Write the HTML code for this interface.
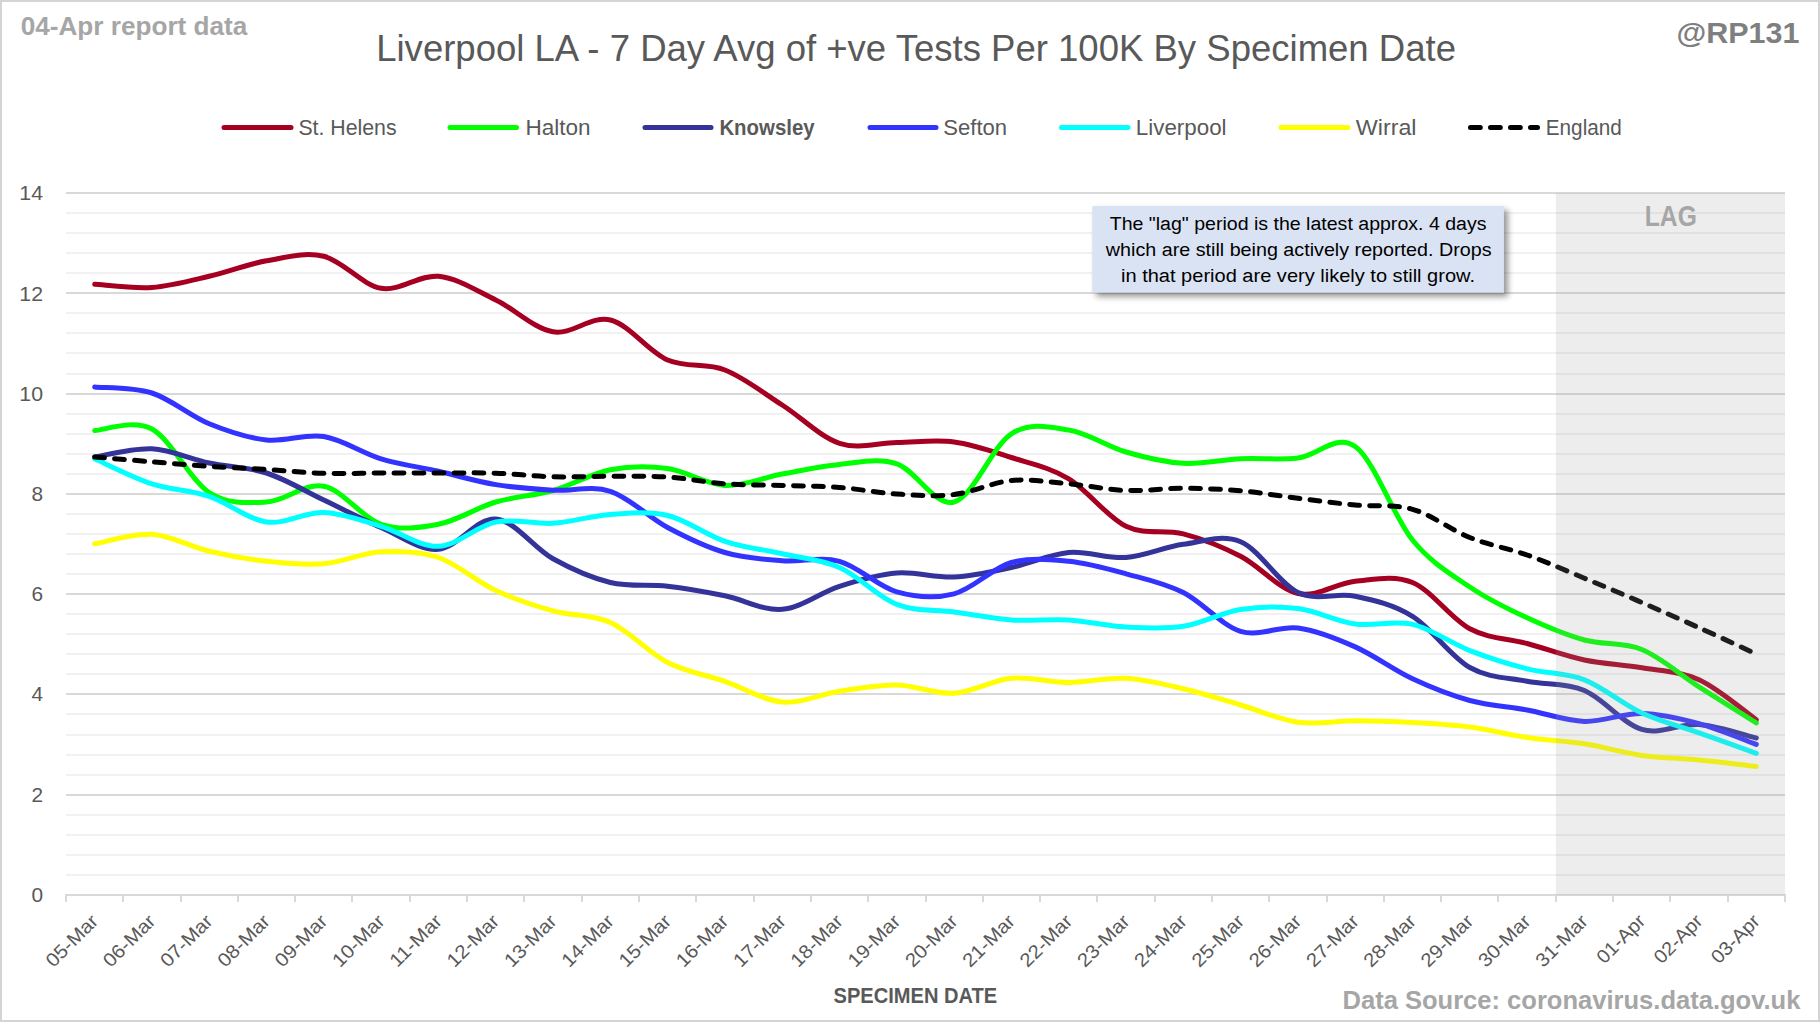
<!DOCTYPE html>
<html lang="en"><head><meta charset="utf-8"><title>Liverpool LA - 7 Day Avg of +ve Tests Per 100K By Specimen Date</title>
<style>html,body{margin:0;padding:0;background:#fff}body{width:1820px;height:1022px;overflow:hidden}svg{display:block}text{font-family:"Liberation Sans",sans-serif}</style></head><body>
<svg width="1820" height="1022" viewBox="0 0 1820 1022">
<defs><filter id="sh" x="-10%" y="-20%" width="125%" height="150%"><feGaussianBlur in="SourceAlpha" stdDeviation="3"/><feOffset dx="4" dy="4"/><feComponentTransfer><feFuncA type="linear" slope="0.43"/></feComponentTransfer><feMerge><feMergeNode/><feMergeNode in="SourceGraphic"/></feMerge></filter></defs>
<rect x="0" y="0" width="1820" height="1022" fill="#fff"/>
<rect x="1" y="1" width="1818" height="1020" fill="none" stroke="#d4d4d4" stroke-width="2"/>
<path d="M66 875H1785M66 855H1785M66 835H1785M66 815H1785M66 775H1785M66 755H1785M66 735H1785M66 714H1785M66 674H1785M66 654H1785M66 634H1785M66 614H1785M66 574H1785M66 554H1785M66 534H1785M66 514H1785M66 474H1785M66 454H1785M66 434H1785M66 414H1785M66 374H1785M66 353H1785M66 333H1785M66 313H1785M66 273H1785M66 253H1785M66 233H1785M66 213H1785" stroke="#f1f1f1" stroke-width="2" fill="none"/>
<path d="M66 795H1785M66 694H1785M66 594H1785M66 494H1785M66 394H1785M66 293H1785M66 193H1785" stroke="#d9d9d9" stroke-width="2" fill="none"/>
<path d="M65 895H1786M66 895V902.0M123 895V902.0M181 895V902.0M238 895V902.0M295 895V902.0M352 895V902.0M410 895V902.0M467 895V902.0M524 895V902.0M582 895V902.0M639 895V902.0M696 895V902.0M754 895V902.0M811 895V902.0M868 895V902.0M926 895V902.0M983 895V902.0M1040 895V902.0M1097 895V902.0M1155 895V902.0M1212 895V902.0M1269 895V902.0M1327 895V902.0M1384 895V902.0M1441 895V902.0M1498 895V902.0M1556 895V902.0M1613 895V902.0M1670 895V902.0M1728 895V902.0M1785 895V902.0" stroke="#d9d9d9" stroke-width="2" fill="none"/>
<text x="43.0" y="901.5" font-size="20.60" fill="#595959" text-anchor="end" textLength="11.6" lengthAdjust="spacingAndGlyphs">0</text>
<text x="43.0" y="801.5" font-size="20.60" fill="#595959" text-anchor="end" textLength="11.6" lengthAdjust="spacingAndGlyphs">2</text>
<text x="43.0" y="701.1" font-size="20.60" fill="#595959" text-anchor="end" textLength="11.6" lengthAdjust="spacingAndGlyphs">4</text>
<text x="43.0" y="600.6" font-size="20.60" fill="#595959" text-anchor="end" textLength="11.6" lengthAdjust="spacingAndGlyphs">6</text>
<text x="43.0" y="500.5" font-size="20.60" fill="#595959" text-anchor="end" textLength="11.6" lengthAdjust="spacingAndGlyphs">8</text>
<text x="43.0" y="400.5" font-size="20.60" fill="#595959" text-anchor="end" textLength="23.7" lengthAdjust="spacingAndGlyphs">10</text>
<text x="43.0" y="300.8" font-size="20.60" fill="#595959" text-anchor="end" textLength="23.7" lengthAdjust="spacingAndGlyphs">12</text>
<text x="43.0" y="199.8" font-size="20.60" fill="#595959" text-anchor="end" textLength="23.7" lengthAdjust="spacingAndGlyphs">14</text>
<text x="99.4" y="922.4" font-size="19.07" fill="#595959" text-anchor="end" textLength="64.9" lengthAdjust="spacingAndGlyphs" transform="rotate(-45 99.4 922.4)">05-Mar</text>
<text x="156.6" y="922.4" font-size="19.07" fill="#595959" text-anchor="end" textLength="64.9" lengthAdjust="spacingAndGlyphs" transform="rotate(-45 156.6 922.4)">06-Mar</text>
<text x="213.9" y="922.4" font-size="19.07" fill="#595959" text-anchor="end" textLength="64.9" lengthAdjust="spacingAndGlyphs" transform="rotate(-45 213.9 922.4)">07-Mar</text>
<text x="271.2" y="922.4" font-size="19.07" fill="#595959" text-anchor="end" textLength="64.9" lengthAdjust="spacingAndGlyphs" transform="rotate(-45 271.2 922.4)">08-Mar</text>
<text x="328.5" y="922.4" font-size="19.07" fill="#595959" text-anchor="end" textLength="64.9" lengthAdjust="spacingAndGlyphs" transform="rotate(-45 328.5 922.4)">09-Mar</text>
<text x="385.8" y="922.4" font-size="19.07" fill="#595959" text-anchor="end" textLength="64.9" lengthAdjust="spacingAndGlyphs" transform="rotate(-45 385.8 922.4)">10-Mar</text>
<text x="443.1" y="922.4" font-size="19.07" fill="#595959" text-anchor="end" textLength="64.9" lengthAdjust="spacingAndGlyphs" transform="rotate(-45 443.1 922.4)">11-Mar</text>
<text x="500.4" y="922.4" font-size="19.07" fill="#595959" text-anchor="end" textLength="64.9" lengthAdjust="spacingAndGlyphs" transform="rotate(-45 500.4 922.4)">12-Mar</text>
<text x="557.8" y="922.4" font-size="19.07" fill="#595959" text-anchor="end" textLength="64.9" lengthAdjust="spacingAndGlyphs" transform="rotate(-45 557.8 922.4)">13-Mar</text>
<text x="615.1" y="922.4" font-size="19.07" fill="#595959" text-anchor="end" textLength="64.9" lengthAdjust="spacingAndGlyphs" transform="rotate(-45 615.1 922.4)">14-Mar</text>
<text x="672.4" y="922.4" font-size="19.07" fill="#595959" text-anchor="end" textLength="64.9" lengthAdjust="spacingAndGlyphs" transform="rotate(-45 672.4 922.4)">15-Mar</text>
<text x="729.6" y="922.4" font-size="19.07" fill="#595959" text-anchor="end" textLength="64.9" lengthAdjust="spacingAndGlyphs" transform="rotate(-45 729.6 922.4)">16-Mar</text>
<text x="787.0" y="922.4" font-size="19.07" fill="#595959" text-anchor="end" textLength="64.9" lengthAdjust="spacingAndGlyphs" transform="rotate(-45 787.0 922.4)">17-Mar</text>
<text x="844.2" y="922.4" font-size="19.07" fill="#595959" text-anchor="end" textLength="64.9" lengthAdjust="spacingAndGlyphs" transform="rotate(-45 844.2 922.4)">18-Mar</text>
<text x="901.5" y="922.4" font-size="19.07" fill="#595959" text-anchor="end" textLength="64.9" lengthAdjust="spacingAndGlyphs" transform="rotate(-45 901.5 922.4)">19-Mar</text>
<text x="958.9" y="922.4" font-size="19.07" fill="#595959" text-anchor="end" textLength="64.9" lengthAdjust="spacingAndGlyphs" transform="rotate(-45 958.9 922.4)">20-Mar</text>
<text x="1016.1" y="922.4" font-size="19.07" fill="#595959" text-anchor="end" textLength="64.9" lengthAdjust="spacingAndGlyphs" transform="rotate(-45 1016.1 922.4)">21-Mar</text>
<text x="1073.5" y="922.4" font-size="19.07" fill="#595959" text-anchor="end" textLength="64.9" lengthAdjust="spacingAndGlyphs" transform="rotate(-45 1073.5 922.4)">22-Mar</text>
<text x="1130.8" y="922.4" font-size="19.07" fill="#595959" text-anchor="end" textLength="64.9" lengthAdjust="spacingAndGlyphs" transform="rotate(-45 1130.8 922.4)">23-Mar</text>
<text x="1188.0" y="922.4" font-size="19.07" fill="#595959" text-anchor="end" textLength="64.9" lengthAdjust="spacingAndGlyphs" transform="rotate(-45 1188.0 922.4)">24-Mar</text>
<text x="1245.3" y="922.4" font-size="19.07" fill="#595959" text-anchor="end" textLength="64.9" lengthAdjust="spacingAndGlyphs" transform="rotate(-45 1245.3 922.4)">25-Mar</text>
<text x="1302.7" y="922.4" font-size="19.07" fill="#595959" text-anchor="end" textLength="64.9" lengthAdjust="spacingAndGlyphs" transform="rotate(-45 1302.7 922.4)">26-Mar</text>
<text x="1360.0" y="922.4" font-size="19.07" fill="#595959" text-anchor="end" textLength="64.9" lengthAdjust="spacingAndGlyphs" transform="rotate(-45 1360.0 922.4)">27-Mar</text>
<text x="1417.2" y="922.4" font-size="19.07" fill="#595959" text-anchor="end" textLength="64.9" lengthAdjust="spacingAndGlyphs" transform="rotate(-45 1417.2 922.4)">28-Mar</text>
<text x="1474.5" y="922.4" font-size="19.07" fill="#595959" text-anchor="end" textLength="64.9" lengthAdjust="spacingAndGlyphs" transform="rotate(-45 1474.5 922.4)">29-Mar</text>
<text x="1531.8" y="922.4" font-size="19.07" fill="#595959" text-anchor="end" textLength="64.9" lengthAdjust="spacingAndGlyphs" transform="rotate(-45 1531.8 922.4)">30-Mar</text>
<text x="1589.1" y="922.4" font-size="19.07" fill="#595959" text-anchor="end" textLength="64.9" lengthAdjust="spacingAndGlyphs" transform="rotate(-45 1589.1 922.4)">31-Mar</text>
<text x="1646.5" y="922.4" font-size="19.07" fill="#595959" text-anchor="end" textLength="59.9" lengthAdjust="spacingAndGlyphs" transform="rotate(-45 1646.5 922.4)">01-Apr</text>
<text x="1703.8" y="922.4" font-size="19.07" fill="#595959" text-anchor="end" textLength="59.9" lengthAdjust="spacingAndGlyphs" transform="rotate(-45 1703.8 922.4)">02-Apr</text>
<text x="1761.0" y="922.4" font-size="19.07" fill="#595959" text-anchor="end" textLength="59.9" lengthAdjust="spacingAndGlyphs" transform="rotate(-45 1761.0 922.4)">03-Apr</text>
<rect x="1092.3" y="206" width="411.5" height="86.5" fill="#dae3f3" filter="url(#sh)"/>
<text x="1298.1" y="229.9" font-size="18.85" fill="#000" text-anchor="middle" textLength="376.8" lengthAdjust="spacingAndGlyphs">The &quot;lag&quot; period is the latest approx. 4 days</text>
<text x="1298.7" y="256.2" font-size="18.85" fill="#000" text-anchor="middle" textLength="385.7" lengthAdjust="spacingAndGlyphs">which are still being actively reported. Drops</text>
<text x="1298.0" y="282.0" font-size="18.85" fill="#000" text-anchor="middle" textLength="354.0" lengthAdjust="spacingAndGlyphs">in that period are very likely to still grow.</text>
<path d="M94.7 284.3C104.2 284.8 132.8 288.8 151.9 287.5C171.0 286.2 190.2 280.8 209.2 276.3C228.3 271.9 247.4 264.1 266.5 260.8C285.6 257.5 304.7 251.7 323.8 256.3C342.9 260.9 362.0 285.0 381.1 288.3C400.2 291.6 419.3 274.4 438.4 276.3C457.6 278.2 476.6 290.8 495.8 300.0C514.9 309.2 533.9 328.5 553.0 331.8C572.1 335.1 591.2 315.3 610.4 320.0C629.5 324.7 648.5 351.7 667.6 360.0C686.8 368.3 705.8 362.5 724.9 370.0C744.0 377.5 763.1 392.8 782.2 405.0C801.4 417.2 820.4 437.1 839.5 443.3C858.6 449.6 877.7 442.7 896.8 442.5C915.9 442.3 935.0 439.5 954.1 442.0C973.2 444.5 992.3 451.4 1011.4 457.5C1030.5 463.6 1049.7 467.3 1068.8 478.8C1087.8 490.3 1107.0 517.1 1126.0 526.3C1145.1 535.5 1164.2 528.8 1183.3 533.8C1202.4 538.8 1221.5 546.3 1240.6 556.3C1259.8 566.2 1278.8 589.3 1298.0 593.5C1317.1 597.7 1336.2 583.1 1355.2 581.3C1374.3 579.5 1393.5 574.6 1412.5 582.5C1431.6 590.4 1450.8 618.6 1469.8 628.8C1488.9 639.0 1508.0 638.3 1527.1 643.5C1546.2 648.7 1565.3 656.0 1584.4 660.0C1603.5 664.0 1622.7 664.5 1641.8 667.8C1660.8 671.1 1680.0 671.1 1699.0 679.8C1718.1 688.4 1746.8 713.1 1756.3 719.7" fill="none" stroke="#a50021" stroke-width="5.0" stroke-linecap="round" stroke-linejoin="round"/>
<path d="M94.7 430.6C104.2 430.3 132.8 418.7 151.9 429.0C171.0 439.3 190.2 480.3 209.2 492.5C228.3 504.7 247.4 503.0 266.5 502.0C285.6 501.0 304.7 482.6 323.8 486.3C342.9 490.0 362.0 518.0 381.1 524.3C400.2 530.6 419.3 528.0 438.4 524.3C457.6 520.6 476.6 507.6 495.8 502.0C514.9 496.4 533.9 495.9 553.0 490.5C572.1 485.1 591.2 473.4 610.4 469.7C629.5 466.0 648.5 465.9 667.6 468.5C686.8 471.1 705.8 484.5 724.9 485.4C744.0 486.3 763.1 477.5 782.2 474.0C801.4 470.5 820.4 466.1 839.5 464.4C858.6 462.7 877.7 457.5 896.8 463.8C915.9 470.1 935.0 507.0 954.1 502.0C973.2 497.0 992.3 445.8 1011.4 433.8C1030.5 421.8 1049.7 427.0 1068.8 430.0C1087.8 433.0 1107.0 446.4 1126.0 452.0C1145.1 457.6 1164.2 462.2 1183.3 463.3C1202.4 464.4 1221.5 459.7 1240.6 458.8C1259.8 457.9 1278.8 460.1 1298.0 458.0C1317.1 455.9 1336.2 432.8 1355.2 446.5C1374.3 460.2 1393.5 516.6 1412.5 540.0C1431.6 563.4 1450.8 574.0 1469.8 587.0C1488.9 600.0 1508.0 609.0 1527.1 617.8C1546.2 626.6 1565.3 634.7 1584.4 640.0C1603.5 645.3 1622.7 641.7 1641.8 649.5C1660.8 657.3 1680.0 674.6 1699.0 686.8C1718.1 699.0 1746.8 716.8 1756.3 722.8" fill="none" stroke="#00ff00" stroke-width="5.0" stroke-linecap="round" stroke-linejoin="round"/>
<path d="M94.7 457.0C104.2 455.6 132.8 447.8 151.9 448.8C171.0 449.8 190.2 459.0 209.2 463.0C228.3 467.0 247.4 466.8 266.5 473.0C285.6 479.2 304.7 490.9 323.8 500.0C342.9 509.1 362.0 519.3 381.1 527.5C400.2 535.7 419.3 550.7 438.4 549.3C457.6 547.9 476.6 517.4 495.8 519.0C514.9 520.6 533.9 548.2 553.0 558.8C572.1 569.4 591.2 577.9 610.4 582.5C629.5 587.1 648.5 584.1 667.6 586.3C686.8 588.5 705.8 592.0 724.9 595.8C744.0 599.6 763.1 610.9 782.2 609.3C801.4 607.7 820.4 592.3 839.5 586.3C858.6 580.2 877.7 574.5 896.8 573.0C915.9 571.5 935.0 577.9 954.1 577.0C973.2 576.1 992.3 571.6 1011.4 567.5C1030.5 563.4 1049.7 554.2 1068.8 552.5C1087.8 550.8 1107.0 558.9 1126.0 557.5C1145.1 556.1 1164.2 546.9 1183.3 544.3C1202.4 541.7 1221.5 533.8 1240.6 541.8C1259.8 549.8 1278.8 583.4 1298.0 592.5C1317.1 601.6 1336.2 592.3 1355.2 596.3C1374.3 600.3 1393.5 604.4 1412.5 616.3C1431.6 628.2 1450.8 656.7 1469.8 667.5C1488.9 678.3 1508.0 677.5 1527.1 681.3C1546.2 685.1 1565.3 682.5 1584.4 690.5C1603.5 698.5 1622.7 723.7 1641.8 729.4C1660.8 735.1 1680.0 723.1 1699.0 724.5C1718.1 725.9 1746.8 735.8 1756.3 738.0" fill="none" stroke="#333399" stroke-width="5.0" stroke-linecap="round" stroke-linejoin="round"/>
<path d="M94.7 387.0C104.2 388.0 132.8 386.9 151.9 393.0C171.0 399.1 190.2 416.0 209.2 423.8C228.3 431.6 247.4 437.9 266.5 440.0C285.6 442.1 304.7 433.4 323.8 436.5C342.9 439.6 362.0 453.0 381.1 458.8C400.2 464.6 419.3 467.0 438.4 471.3C457.6 475.6 476.6 481.5 495.8 484.6C514.9 487.8 533.9 489.1 553.0 490.2C572.1 491.3 591.2 485.1 610.4 491.3C629.5 497.5 648.5 517.3 667.6 527.5C686.8 537.7 705.8 547.0 724.9 552.5C744.0 558.0 763.1 559.3 782.2 560.8C801.4 562.3 820.4 556.1 839.5 561.3C858.6 566.5 877.7 586.5 896.8 591.9C915.9 597.3 935.0 598.7 954.1 593.8C973.2 588.9 992.3 567.9 1011.4 562.5C1030.5 557.1 1049.7 559.4 1068.8 561.3C1087.8 563.2 1107.0 568.6 1126.0 573.8C1145.1 579.0 1164.2 582.9 1183.3 592.5C1202.4 602.1 1221.5 625.4 1240.6 631.3C1259.8 637.2 1278.8 625.4 1298.0 628.0C1317.1 630.6 1336.2 638.4 1355.2 646.9C1374.3 655.4 1393.5 669.9 1412.5 678.8C1431.6 687.7 1450.8 695.3 1469.8 700.5C1488.9 705.7 1508.0 706.5 1527.1 710.0C1546.2 713.5 1565.3 720.8 1584.4 721.4C1603.5 722.0 1622.7 713.0 1641.8 713.4C1660.8 713.8 1680.0 718.4 1699.0 723.6C1718.1 728.8 1746.8 740.9 1756.3 744.4" fill="none" stroke="#3333ff" stroke-width="5.0" stroke-linecap="round" stroke-linejoin="round"/>
<path d="M94.7 458.8C104.2 463.0 132.8 477.6 151.9 483.8C171.0 490.1 190.2 489.9 209.2 496.3C228.3 502.7 247.4 519.3 266.5 522.0C285.6 524.7 304.7 511.8 323.8 512.5C342.9 513.2 362.0 520.7 381.1 526.3C400.2 531.9 419.3 547.0 438.4 546.3C457.6 545.6 476.6 525.8 495.8 522.0C514.9 518.2 533.9 524.5 553.0 523.3C572.1 522.0 591.2 515.8 610.4 514.5C629.5 513.2 648.5 511.0 667.6 515.5C686.8 520.0 705.8 534.9 724.9 541.3C744.0 547.7 763.1 549.4 782.2 553.8C801.4 558.2 820.4 559.1 839.5 567.5C858.6 575.9 877.7 597.0 896.8 604.4C915.9 611.8 935.0 609.4 954.1 612.0C973.2 614.6 992.3 618.7 1011.4 620.0C1030.5 621.3 1049.7 618.8 1068.8 620.0C1087.8 621.2 1107.0 626.0 1126.0 627.0C1145.1 628.0 1164.2 629.2 1183.3 626.3C1202.4 623.4 1221.5 612.5 1240.6 609.5C1259.8 606.5 1278.8 606.1 1298.0 608.5C1317.1 610.9 1336.2 621.4 1355.2 624.0C1374.3 626.6 1393.5 620.0 1412.5 624.4C1431.6 628.8 1450.8 643.2 1469.8 650.6C1488.9 658.0 1508.0 663.9 1527.1 668.8C1546.2 673.7 1565.3 672.4 1584.4 679.8C1603.5 687.2 1622.7 704.2 1641.8 713.0C1660.8 721.8 1680.0 726.1 1699.0 732.8C1718.1 739.5 1746.8 749.9 1756.3 753.3" fill="none" stroke="#00ffff" stroke-width="5.0" stroke-linecap="round" stroke-linejoin="round"/>
<path d="M94.7 543.8C104.2 542.2 132.8 533.0 151.9 534.3C171.0 535.5 190.2 546.8 209.2 551.3C228.3 555.8 247.4 559.2 266.5 561.3C285.6 563.4 304.7 565.4 323.8 563.8C342.9 562.2 362.0 552.8 381.1 551.8C400.2 550.8 419.3 551.0 438.4 557.5C457.6 564.0 476.6 581.7 495.8 590.6C514.9 599.5 533.9 605.5 553.0 610.8C572.1 616.1 591.2 613.9 610.4 622.5C629.5 631.1 648.5 652.7 667.6 662.5C686.8 672.3 705.8 674.7 724.9 681.3C744.0 687.9 763.1 700.3 782.2 702.0C801.4 703.7 820.4 694.1 839.5 691.3C858.6 688.5 877.7 684.7 896.8 685.0C915.9 685.3 935.0 694.4 954.1 693.3C973.2 692.2 992.3 680.1 1011.4 678.3C1030.5 676.5 1049.7 682.5 1068.8 682.5C1087.8 682.5 1107.0 677.2 1126.0 678.3C1145.1 679.3 1164.2 684.3 1183.3 688.8C1202.4 693.2 1221.5 699.4 1240.6 705.0C1259.8 710.6 1278.8 719.7 1298.0 722.3C1317.1 724.9 1336.2 720.8 1355.2 720.8C1374.3 720.8 1393.5 721.5 1412.5 722.5C1431.6 723.5 1450.8 724.5 1469.8 727.0C1488.9 729.5 1508.0 734.7 1527.1 737.5C1546.2 740.3 1565.3 740.8 1584.4 743.8C1603.5 746.8 1622.7 752.7 1641.8 755.4C1660.8 758.1 1680.0 758.2 1699.0 760.1C1718.1 762.0 1746.8 765.4 1756.3 766.5" fill="none" stroke="#ffff00" stroke-width="5.0" stroke-linecap="round" stroke-linejoin="round"/>
<path d="M94.7 457.0C104.2 457.8 132.8 460.2 151.9 461.8C171.0 463.4 190.2 465.0 209.2 466.3C228.3 467.6 247.4 468.3 266.5 469.5C285.6 470.7 304.7 472.7 323.8 473.3C342.9 473.9 362.0 473.1 381.1 473.0C400.2 472.9 419.3 473.0 438.4 473.0C457.6 473.0 476.6 472.6 495.8 473.2C514.9 473.8 533.9 476.3 553.0 476.8C572.1 477.3 591.2 476.3 610.4 476.3C629.5 476.3 648.5 475.8 667.6 477.0C686.8 478.2 705.8 482.4 724.9 483.8C744.0 485.2 763.1 484.9 782.2 485.5C801.4 486.1 820.4 486.1 839.5 487.5C858.6 488.9 877.7 492.8 896.8 494.0C915.9 495.2 935.0 496.8 954.1 494.5C973.2 492.2 992.3 482.3 1011.4 480.5C1030.5 478.7 1049.7 482.1 1068.8 483.8C1087.8 485.5 1107.0 489.8 1126.0 490.5C1145.1 491.2 1164.2 488.2 1183.3 488.3C1202.4 488.4 1221.5 489.1 1240.6 490.8C1259.8 492.5 1278.8 495.9 1298.0 498.3C1317.1 500.7 1336.2 503.2 1355.2 505.0C1374.3 506.8 1393.5 503.9 1412.5 509.3C1431.6 514.7 1450.8 529.9 1469.8 537.5C1488.9 545.1 1508.0 548.2 1527.1 555.0C1546.2 561.8 1565.3 570.3 1584.4 578.2C1603.5 586.1 1622.7 594.2 1641.8 602.5C1660.8 610.8 1680.0 619.1 1699.0 627.7C1718.1 636.3 1746.8 649.6 1756.3 654.0" fill="none" stroke="#000000" stroke-width="5.0" stroke-linecap="round" stroke-linejoin="round" stroke-dasharray="9.8 10.2"/>
<rect x="1555.8" y="193.0" width="229.2" height="702.0" fill="#9e9e9e" fill-opacity="0.19"/>
<text x="1670.8" y="226.0" font-size="28.70" fill="#a6a6a6" text-anchor="middle" font-weight="bold" textLength="52.0" lengthAdjust="spacingAndGlyphs">LAG</text>
<text x="916.1" y="61.4" font-size="36.47" fill="#595959" text-anchor="middle" textLength="1079.8" lengthAdjust="spacingAndGlyphs">Liverpool LA - 7 Day Avg of +ve Tests Per 100K By Specimen Date</text>
<text x="20.7" y="34.7" font-size="25.87" fill="#a6a6a6" font-weight="bold" textLength="226.6" lengthAdjust="spacingAndGlyphs">04-Apr report data</text>
<text x="1799.5" y="42.9" font-size="30.38" fill="#7f7f7f" text-anchor="end" font-weight="bold" textLength="123.0" lengthAdjust="spacingAndGlyphs">@RP131</text>
<text x="1800.4" y="1009.4" font-size="26.05" fill="#a6a6a6" text-anchor="end" font-weight="bold" textLength="457.9" lengthAdjust="spacingAndGlyphs">Data Source: coronavirus.data.gov.uk</text>
<text x="915.4" y="1002.8" font-size="21.46" fill="#595959" text-anchor="middle" font-weight="bold" textLength="163.6" lengthAdjust="spacingAndGlyphs">SPECIMEN DATE</text>
<path d="M224.0 127.6H291.0" stroke="#a50021" stroke-width="5.0" stroke-linecap="round" fill="none"/>
<text x="347.5" y="134.9" font-size="21.19" fill="#595959" text-anchor="middle" textLength="98.2" lengthAdjust="spacingAndGlyphs">St. Helens</text>
<path d="M450.0 127.6H516.5" stroke="#00ff00" stroke-width="5.0" stroke-linecap="round" fill="none"/>
<text x="558.0" y="134.9" font-size="21.19" fill="#595959" text-anchor="middle" textLength="65.2" lengthAdjust="spacingAndGlyphs">Halton</text>
<path d="M645.0 127.6H711.0" stroke="#333399" stroke-width="5.0" stroke-linecap="round" fill="none"/>
<text x="767.0" y="134.9" font-size="21.19" fill="#595959" text-anchor="middle" font-weight="bold" textLength="95.2" lengthAdjust="spacingAndGlyphs">Knowsley</text>
<path d="M870.0 127.6H936.0" stroke="#3333ff" stroke-width="5.0" stroke-linecap="round" fill="none"/>
<text x="975.2" y="134.9" font-size="21.19" fill="#595959" text-anchor="middle" textLength="63.7" lengthAdjust="spacingAndGlyphs">Sefton</text>
<path d="M1061.5 127.6H1128.0" stroke="#00ffff" stroke-width="5.0" stroke-linecap="round" fill="none"/>
<text x="1181.2" y="134.9" font-size="21.19" fill="#595959" text-anchor="middle" textLength="90.7" lengthAdjust="spacingAndGlyphs">Liverpool</text>
<path d="M1281.0 127.6H1348.0" stroke="#ffff00" stroke-width="5.0" stroke-linecap="round" fill="none"/>
<text x="1386.2" y="134.9" font-size="21.19" fill="#595959" text-anchor="middle" textLength="60.7" lengthAdjust="spacingAndGlyphs">Wirral</text>
<path d="M1470.5 127.6H1537.5" stroke="#000000" stroke-width="5.0" stroke-linecap="round" fill="none" stroke-dasharray="9.8 10.2"/>
<text x="1583.8" y="134.9" font-size="21.19" fill="#595959" text-anchor="middle" textLength="76.1" lengthAdjust="spacingAndGlyphs">England</text>
</svg></body></html>
